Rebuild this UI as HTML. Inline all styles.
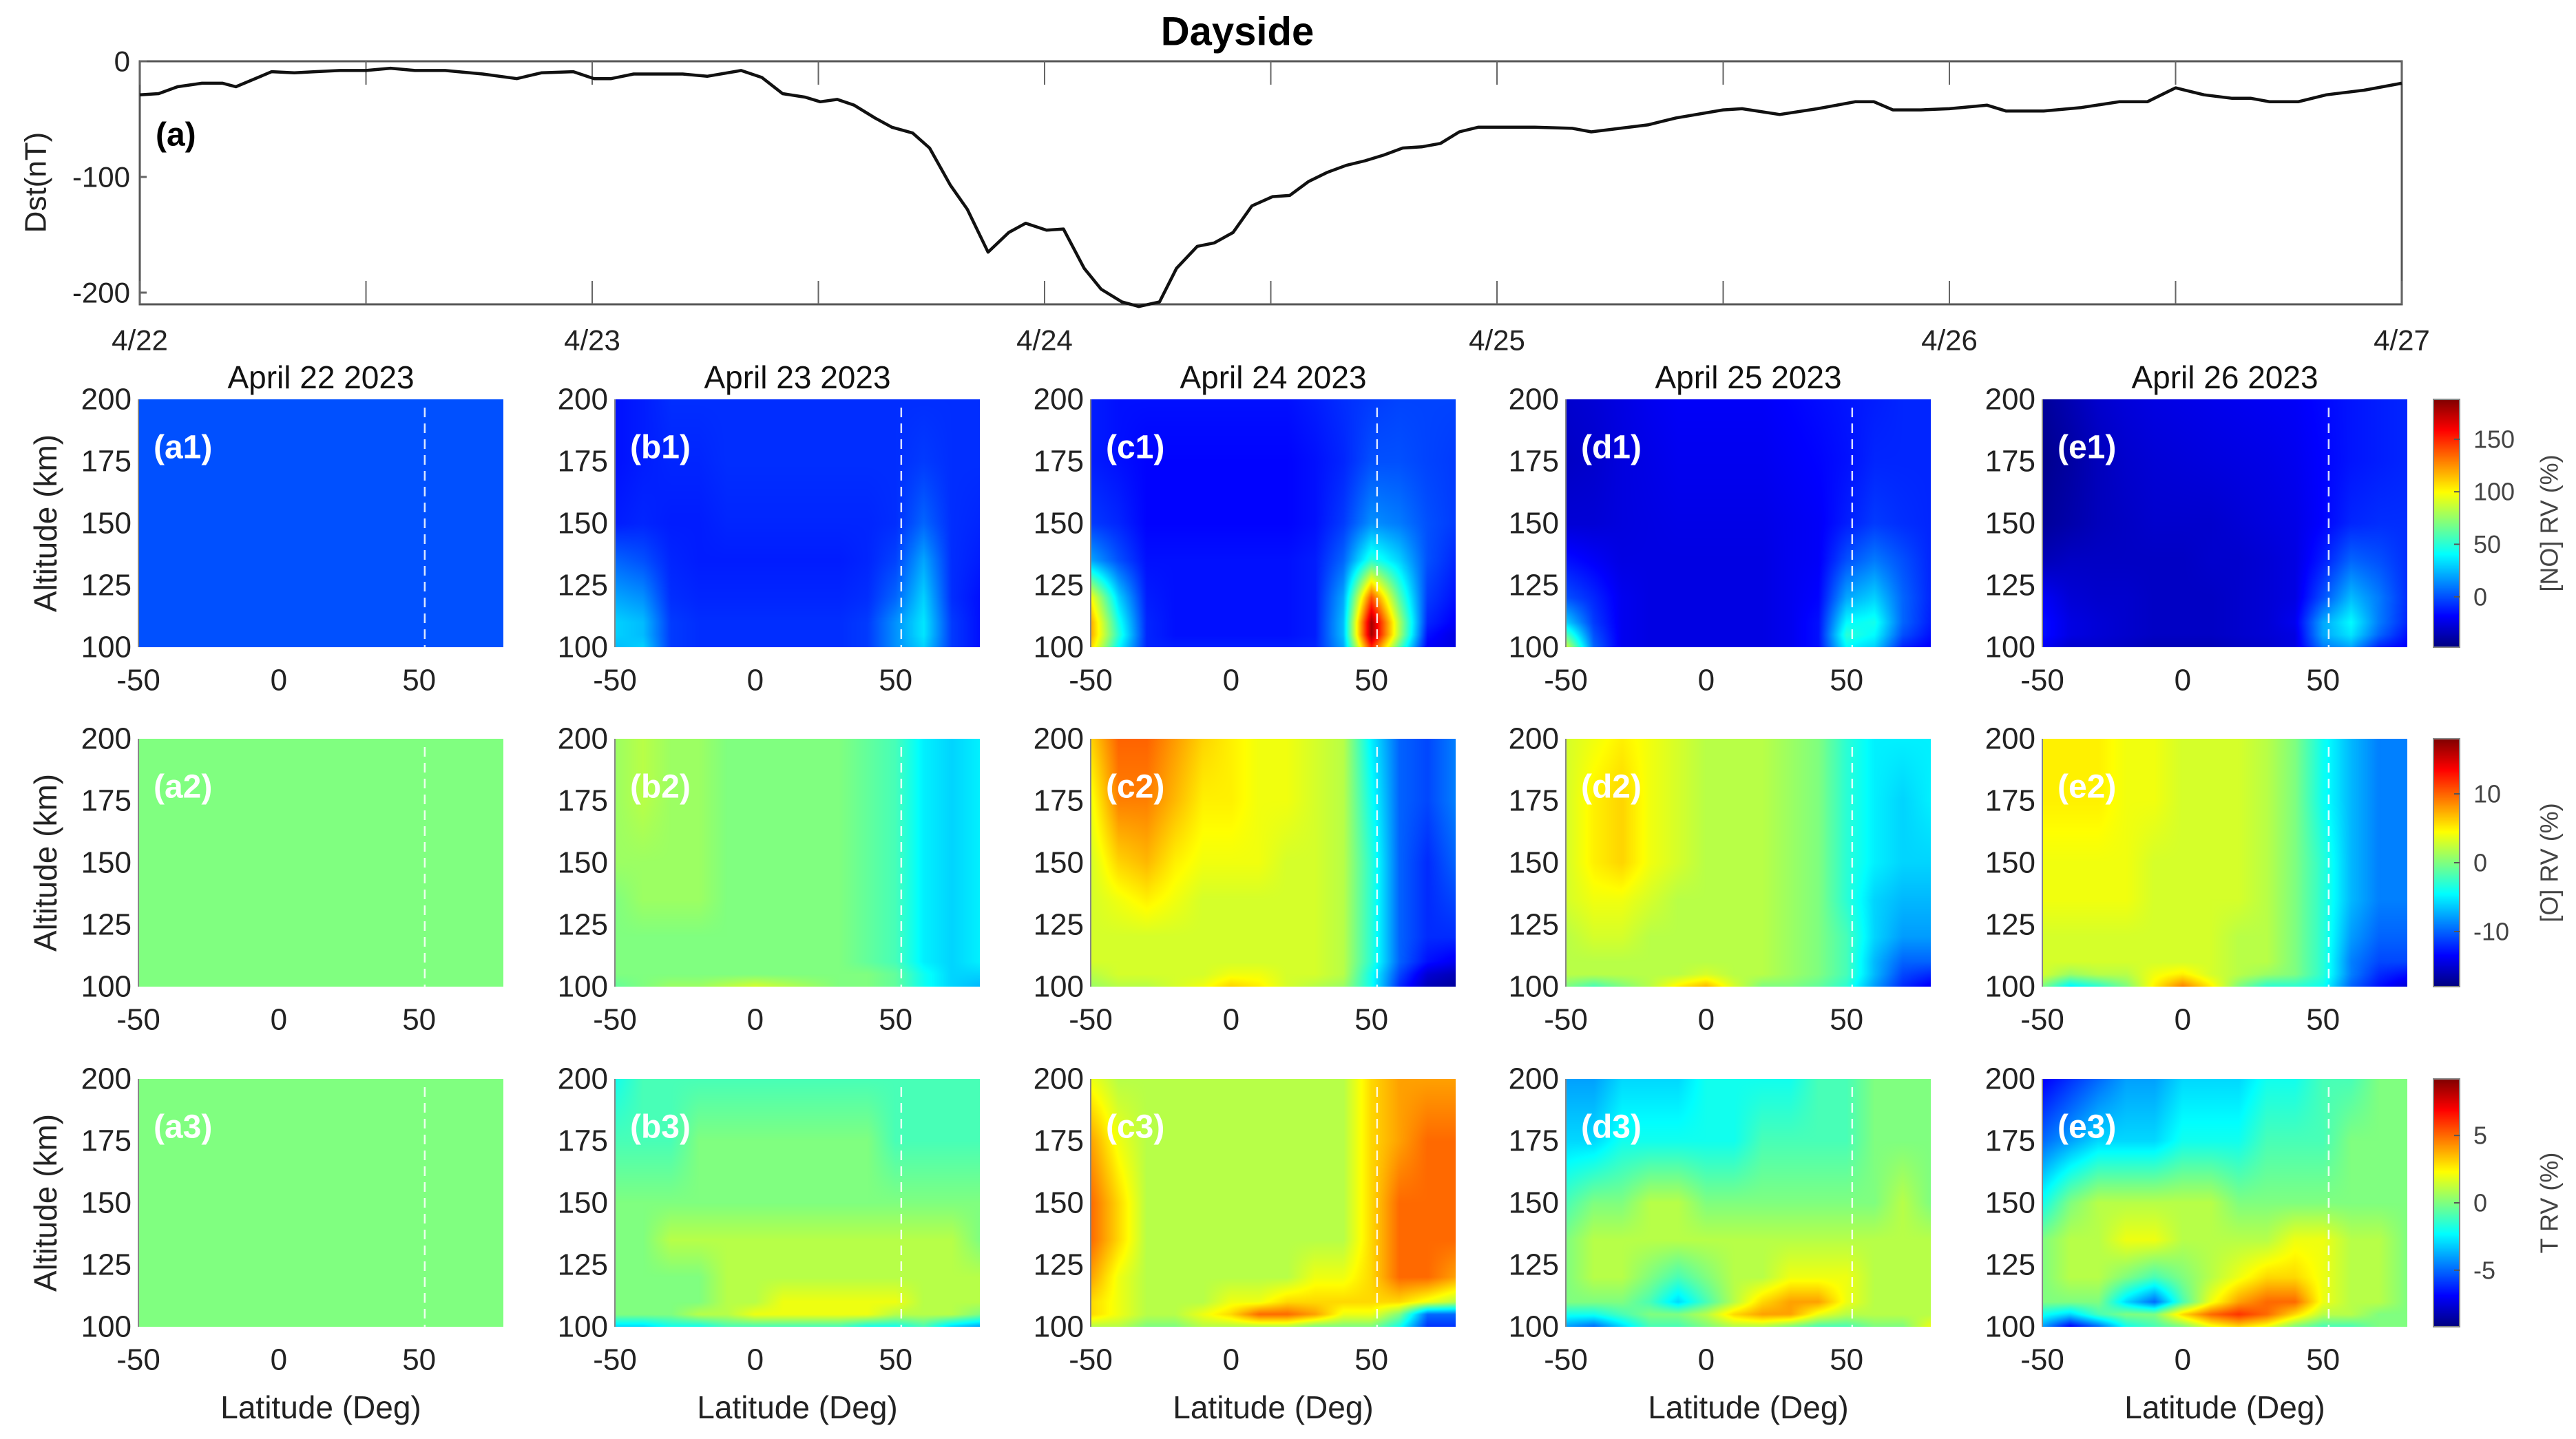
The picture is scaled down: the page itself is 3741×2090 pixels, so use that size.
<!DOCTYPE html>
<html><head><meta charset="utf-8">
<style>
html,body{margin:0;padding:0;background:#fff;}
#root{position:relative;width:3741px;height:2090px;overflow:hidden;font-family:"Liberation Sans",Arial,sans-serif;}
canvas{position:absolute;}
svg{position:absolute;left:0;top:0;}
</style></head>
<body>
<div id="root">
<svg id="svg" width="3741" height="2090"></svg>
</div>
<script>
// ---------- Dst data (hours since 4/22 00:00, nT) ----------
const dstHours = [0,1,2,3.3,4.4,5.1,7,8.2,9.3,10.6,12,13.3,14.6,16.2,18.2,20,21.3,23,24.1,25,26.2,28.8,30.1,31.9,33,34.1,35.3,36.1,37,37.9,39,39.9,41,41.9,43,43.9,45,46.1,47,48.1,49,50.1,51,52.1,53,54.1,55,56.1,57,58,59,60.1,61,62,63,64,65,66,67,68,69,70,71,72,74,76,77,78,80,81.5,84,85,87,89,91,92,93,94.5,96,98,99,101,103,105,106.5,108,109.5,111,112,113,114.5,116,118,120];
const dstValues = [-29,-28,-22,-19,-19,-22,-9,-10,-9,-8,-8,-6,-8,-8,-11,-15,-10,-9,-15,-15,-11,-11,-13,-8,-14,-28,-31,-35,-33,-38,-49,-57,-62,-75,-107,-128,-165,-148,-140,-146,-145,-179,-197,-208,-212,-208,-179,-160,-157,-148,-125,-117,-116,-104,-96,-90,-86,-81,-75,-74,-71,-61,-57,-57,-57,-58,-61,-59,-55,-49,-42,-41,-46,-41,-35,-35,-42,-42,-41,-38,-43,-43,-40,-35,-35,-23,-29,-32,-32,-35,-35,-29,-25,-19];
const dstTicks = [0,-100,-200];
const dayLabels = ["4/22","4/23","4/24","4/25","4/26","4/27"];

// ---------- Heatmap grids ----------
const lats = [-50,-40,-30,-20,-10,0,10,20,30,40,50,60,70,80];
const alts = [100,105,110,120,135,150,175,200];
const latTicks = [-50,0,50];
const altTicks = [100,125,150,175,200];
const dayTitles = ["April 22 2023","April 23 2023","April 24 2023","April 25 2023","April 26 2023"];
const colLetters = ["a","b","c","d","e"];

// [NO] RV (%)  rows ordered by alts (100 -> 200)
const noA = [
[0,0,0,0,0,0,0,0,0,0,0,0,0,0],[0,0,0,0,0,0,0,0,0,0,0,0,0,0],[0,0,0,0,0,0,0,0,0,0,0,0,0,0],[0,0,0,0,0,0,0,0,0,0,0,0,0,0],
[0,0,0,0,0,0,0,0,0,0,0,0,0,0],[0,0,0,0,0,0,0,0,0,0,0,0,0,0],[0,0,0,0,0,0,0,0,0,0,0,0,0,0],[0,0,0,0,0,0,0,0,0,0,0,0,0,0]];
const noB = [
[25,30,-5,-8,-8,-8,-8,-8,-8,-5,15,30,-5,-15],
[30,25,-5,-8,-8,-8,-8,-8,-8,-5,15,35,-5,-15],
[30,25,-5,-8,-8,-8,-8,-8,-8,-5,15,35,-5,-15],
[20,15,-8,-10,-10,-10,-10,-10,-10,-8,5,30,-8,-15],
[5,0,-10,-12,-12,-12,-12,-12,-12,-10,-3,20,-8,-12],
[-12,-10,-12,-12,-10,-10,-10,-10,-10,-10,-8,5,-8,-10],
[-15,-12,-10,-10,-8,-8,-8,-8,-8,-8,-8,-5,-8,-8],
[-15,-12,-8,-8,-8,-8,-8,-8,-8,-8,-8,-8,-8,-8]];
const noC = [
[110,40,-10,-12,-12,-12,-12,-12,-10,20,150,60,-20,-25],
[120,50,-10,-15,-15,-15,-15,-15,-12,25,180,80,-15,-25],
[120,45,-10,-15,-15,-15,-15,-15,-12,25,180,80,-10,-20],
[100,30,-12,-15,-15,-15,-15,-15,-12,20,140,60,-5,-15],
[20,0,-15,-15,-15,-15,-15,-15,-12,5,50,30,0,-10],
[-5,-10,-18,-18,-18,-18,-18,-18,-15,-5,15,10,0,-5],
[-12,-15,-18,-18,-18,-18,-18,-18,-15,-10,0,0,-3,-5],
[-12,-15,-15,-15,-15,-15,-15,-15,-12,-8,-5,-3,-3,-3]];
const noD = [
[90,5,-22,-25,-25,-25,-25,-25,-22,-15,40,30,-10,-20],
[60,0,-22,-25,-25,-25,-25,-25,-22,-15,50,40,0,-15],
[30,-5,-22,-25,-25,-25,-25,-25,-22,-15,40,45,5,-12],
[0,-10,-22,-25,-25,-25,-25,-25,-22,-18,20,30,5,-10],
[-15,-20,-25,-25,-25,-25,-25,-25,-22,-20,0,10,0,-10],
[-28,-28,-26,-25,-24,-24,-24,-24,-22,-20,-12,-5,-8,-10],
[-32,-30,-26,-24,-22,-22,-22,-22,-20,-18,-15,-10,-10,-10],
[-30,-28,-25,-22,-20,-20,-20,-20,-18,-16,-14,-12,-10,-10]];
const noE = [
[-20,-30,-30,-32,-35,-35,-35,-32,-30,-25,10,20,-10,-20],
[-15,-25,-28,-30,-32,-32,-32,-30,-28,-25,20,35,5,-15],
[-15,-25,-28,-30,-32,-32,-32,-30,-28,-22,20,40,10,-10],
[-20,-28,-30,-30,-32,-32,-32,-30,-28,-25,0,25,10,-8],
[-35,-32,-32,-32,-32,-32,-30,-30,-28,-25,-12,5,0,-8],
[-42,-38,-34,-32,-30,-30,-30,-28,-26,-24,-18,-10,-8,-8],
[-45,-40,-34,-30,-28,-27,-26,-25,-24,-22,-18,-14,-12,-10],
[-42,-36,-30,-27,-25,-24,-23,-22,-21,-20,-17,-14,-12,-10]];

// [O] RV (%)
const oA = [
[0,0,0,0,0,0,0,0,0,0,0,0,0,0],[0,0,0,0,0,0,0,0,0,0,0,0,0,0],[0,0,0,0,0,0,0,0,0,0,0,0,0,0],[0,0,0,0,0,0,0,0,0,0,0,0,0,0],
[0,0,0,0,0,0,0,0,0,0,0,0,0,0],[0,0,0,0,0,0,0,0,0,0,0,0,0,0],[0,0,0,0,0,0,0,0,0,0,0,0,0,0],[0,0,0,0,0,0,0,0,0,0,0,0,0,0]];
const oB = [
[-1,0,1,1,2,3,2,1,0,0,-1,-4,-6,-7],
[0,0,0,0,0,0,0,0,0,0,-1,-4,-6,-6],
[0,0,0,0,0,0,0,0,0,-1,-2,-5,-6,-5],
[0,0,0,0,0,0,0,0,0,-1,-2,-5,-6,-5],
[0,1,1,1,0,0,0,0,0,-1,-2,-5,-6,-5],
[1,1,1,1,0,0,0,0,0,-1,-2,-5,-6,-5],
[1,2,1,1,0,0,0,0,0,-1,-2,-5,-6,-5],
[1,2,1,1,0,0,0,0,0,-1,-2,-5,-6,-5]];
const oC = [
[1,2,2,3,4,6,5,3,2,1,-4,-12,-16,-17],
[2,3,3,3,3,4,4,3,3,2,-4,-11,-15,-16],
[3,3,3,3,3,3,3,3,3,2,-3,-10,-13,-14],
[3,3,3,3,3,3,3,3,3,2,-3,-10,-12,-12],
[3,4,5,4,3,3,3,3,3,2,-3,-10,-12,-11],
[3,6,7,5,4,4,4,3,3,2,-3,-10,-12,-10],
[4,9,9,7,5,5,4,4,3,2,-4,-10,-11,-9],
[6,10,10,8,6,5,4,4,3,2,-5,-10,-11,-9]];
const oD = [
[0,-2,0,2,5,7,3,0,0,-1,-3,-8,-12,-14],
[2,2,2,2,2,3,2,2,1,0,-2,-7,-11,-12],
[2,2,2,2,2,2,2,2,1,0,-2,-7,-10,-10],
[2,3,3,2,2,2,2,2,1,0,-2,-6,-8,-8],
[3,4,4,3,2,2,2,2,1,0,-3,-6,-7,-7],
[3,5,6,4,3,2,2,2,1,0,-3,-5,-6,-6],
[3,5,6,4,3,2,2,2,1,0,-3,-5,-6,-5],
[3,4,5,4,3,2,2,2,1,0,-3,-5,-5,-5]];
const oE = [
[0,-5,-3,0,5,9,5,0,-3,-3,-4,-10,-13,-15],
[3,1,2,2,4,5,3,2,1,0,-3,-9,-12,-13],
[3,3,3,3,3,3,3,2,2,0,-3,-9,-11,-11],
[3,3,3,3,3,3,3,2,2,0,-3,-8,-10,-10],
[4,4,4,4,3,3,3,3,2,0,-3,-7,-9,-9],
[4,4,4,4,3,3,3,3,2,0,-3,-7,-9,-9],
[5,5,5,4,4,3,3,3,2,0,-4,-7,-9,-9],
[5,5,5,4,4,3,3,3,2,0,-4,-7,-9,-9]];

// T RV (%)
const tA = [
[0,0,0,0,0,0,0,0,0,0,0,0,0,0],[0,0,0,0,0,0,0,0,0,0,0,0,0,0],[0,0,0,0,0,0,0,0,0,0,0,0,0,0],[0,0,0,0,0,0,0,0,0,0,0,0,0,0],
[0,0,0,0,0,0,0,0,0,0,0,0,0,0],[0,0,0,0,0,0,0,0,0,0,0,0,0,0],[0,0,0,0,0,0,0,0,0,0,0,0,0,0],[0,0,0,0,0,0,0,0,0,0,0,0,0,0]];
const tB = [
[-3,-3,-2,-2,-1,-1,-1,-1,-1,-2,-2,-1,-3,-4],
[0,0,0,1,1,2,2,2,2,2,1,1,1,0],
[0,0,0,0,1,1,2,2,2,2,2,1,1,1],
[0,0,0,0,1,1,1,1,1,1,1,1,1,1],
[0,0,1,1,1,1,1,1,1,1,1,1,1,0],
[0,0,0,0,0,0,0,0,0,0,0,0,0,0],
[-1,-1,-1,0,0,0,0,0,0,0,-1,-1,-1,-1],
[-2,-1,-1,-1,-1,-1,-1,-1,-1,-1,-1,-1,-1,-1]];
const tC = [
[1,1,0,0,1,1,1,1,0,0,0,-2,-6,-6],
[3,2,1,1,2,3,5,5,4,2,2,0,-5,-5],
[3,2,1,1,1,2,2,3,3,3,3,3,2,1],
[4,2,1,1,1,1,1,1,2,2,3,5,5,4],
[5,3,1,1,1,1,1,1,1,1,3,5,5,5],
[5,3,1,1,1,1,1,1,1,1,3,5,5,5],
[4,2,1,1,1,1,1,1,1,1,3,4,5,5],
[2,1,1,1,1,1,1,1,1,1,3,4,4,4]];
const tD = [
[-4,-5,-3,-1,-1,0,1,1,0,-1,-1,0,0,2],
[-2,-2,-1,0,0,1,3,4,4,2,1,1,1,1],
[0,0,0,-1,-3,-1,1,3,4,4,2,1,1,1],
[0,1,1,0,-1,0,1,1,2,2,2,1,1,1],
[0,1,1,1,1,1,1,1,1,1,1,1,1,1],
[-1,0,0,1,1,0,0,0,0,0,0,0,1,0],
[-3,-3,-2,-2,-2,-2,-2,-1,-1,-1,-1,0,0,0],
[-4,-4,-3,-3,-3,-2,-2,-2,-2,-1,-1,0,0,0]];
const tE = [
[-4,-7,-5,-2,-1,0,2,3,2,0,-1,-1,0,0],
[-2,-3,-1,0,0,3,5,6,5,3,1,1,0,0],
[0,0,0,-3,-5,-1,2,4,5,5,2,1,1,0],
[0,1,1,0,-1,0,1,2,3,3,2,1,1,0],
[0,1,1,2,2,1,1,1,1,2,2,1,1,0],
[-2,0,1,1,1,1,1,0,0,0,0,0,0,0],
[-5,-4,-3,-3,-3,-2,-2,-2,-1,-1,-1,0,0,0],
[-7,-6,-5,-4,-4,-3,-3,-3,-2,-2,-1,-1,0,0]];

const noRange = [-48,188], oRange = [-18,18], tRange = [-9.2,9.2];
const noTicks = [0,50,100,150], oTicks = [-10,0,10], tTicks = [-5,0,5];
const cbTitles = ["[NO] RV (%)","[O] RV (%)","T RV (%)"];

const grids = [[noA,noB,noC,noD,noE],[oA,oB,oC,oD,oE],[tA,tB,tC,tD,tE]];
const ranges = [noRange,oRange,tRange];
const cbTicks = [noTicks,oTicks,tTicks];
const boundaryLat = 52;

// ---------- layout ----------
const NS="http://www.w3.org/2000/svg";
const svg=document.getElementById('svg');
const root=document.getElementById('root');
function mk(tag,attrs,parent){const e=document.createElementNS(NS,tag);for(const k in attrs)e.setAttribute(k,attrs[k]);(parent||svg).appendChild(e);return e;}
function txt(s,x,y,size,attrs,parent){const t=mk('text',Object.assign({x:x,y:y,'font-size':size,'font-family':'"Liberation Sans", Arial, sans-serif',fill:'#222','dominant-baseline':'central'},attrs||{}),parent);t.textContent=s;return t;}

// top Dst panel
const TX0=203,TX1=3488,TY0=89,TY1=442;
const hx=h=>TX0+(h/120)*(TX1-TX0);
const vy=v=>TY0+(-v/200)*(425-TY0);
const title=txt("Dayside",1797,46,58,{'font-weight':'bold','text-anchor':'middle',fill:'#000'});


const dstG=mk('g',{});


const frame=mk('rect',{x:TX0,y:TY0,width:TX1-TX0,height:TY1-TY0,fill:'none',stroke:'#555','stroke-width':3},dstG);


for(let h=0;h<=120;h+=12){
  const x=hx(h);
  const t1=mk('line',{x1:x,x2:x,y1:TY0,y2:TY0+34,stroke:'#666','stroke-width':2},dstG);
  
  
  const t2=mk('line',{x1:x,x2:x,y1:TY1,y2:TY1-34,stroke:'#666','stroke-width':2},dstG);
  
  
}
dayLabels.forEach((s,i)=>{const t=txt(s,hx(i*24),494,42,{'text-anchor':'middle'},dstG);
  
  });
dstTicks.forEach(v=>{const y=vy(v);
  const tk=mk('line',{x1:TX0,x2:TX0+10,y1:y,y2:y,stroke:'#666','stroke-width':3},dstG);
  
  
  const t=txt(String(v),TX0-14,y,42,{'text-anchor':'end'},dstG);
  
  });
const dyl=txt("Dst(nT)",0,0,44,{'text-anchor':'middle',transform:'translate(52,265) rotate(-90)'},dstG);


const pa=txt("(a)",226,196,48,{'font-weight':'bold',fill:'#000'},dstG);


const line=mk('polyline',{points:dstHours.map((h,i)=>hx(h).toFixed(1)+','+vy(dstValues[i]).toFixed(1)).join(' '),fill:'none',stroke:'#111','stroke-width':4.5,'stroke-linejoin':'round'},dstG);



// heatmaps
const colX=[201,893,1584,2274,2966], PW=530;
const rowY=[580,1073,1567], PH=360;
const LAT0=-50,LAT1=80,ALT0=100,ALT1=200;
function jet(t){t=Math.max(0,Math.min(1,t));const c=v=>Math.round(255*Math.max(0,Math.min(1,v)));
  return [c(1.5-Math.abs(4*t-3)),c(1.5-Math.abs(4*t-2)),c(1.5-Math.abs(4*t-1))];}
function locate(arr,v){let i=0;while(i<arr.length-2&&v>arr[i+1])i++;let f=(v-arr[i])/(arr[i+1]-arr[i]);f=Math.max(0,Math.min(1,f));return [i,f];}
function sample(g,lat,alt){const [i,fi]=locate(lats,lat),[j,fj]=locate(alts,alt);
  const a=g[j][i],b=g[j][i+1],c=g[j+1][i],d=g[j+1][i+1];
  return (a*(1-fi)+b*fi)*(1-fj)+(c*(1-fi)+d*fi)*fj;}
const lx=(x0,lat)=>x0+(lat-LAT0)/(LAT1-LAT0)*PW;
const ay=(y0,alt)=>y0+PH-(alt-ALT0)/(ALT1-ALT0)*PH;

for(let r=0;r<3;r++){
  for(let c=0;c<5;c++){
    const x0=colX[c],y0=rowY[r],g=grids[r][c],rg=ranges[r];
    const cv=document.createElement('canvas');cv.width=PW;cv.height=PH;
    cv.style.left=x0+'px';cv.style.top=y0+'px';
    
    
    const ctx=cv.getContext('2d');const im=ctx.createImageData(PW,PH);
    for(let py=0;py<PH;py++){const alt=ALT1-(py+0.5)/PH*(ALT1-ALT0);
      for(let px=0;px<PW;px++){const lat=LAT0+(px+0.5)/PW*(LAT1-LAT0);
        const v=sample(g,lat,alt);const col=jet((v-rg[0])/(rg[1]-rg[0]));
        const k=(py*PW+px)*4;im.data[k]=col[0];im.data[k+1]=col[1];im.data[k+2]=col[2];im.data[k+3]=255;}}
    ctx.putImageData(im,0,0);root.insertBefore(cv,svg);
    const G=mk('g',{});
    
    
    const bx=lx(x0,boundaryLat);
    const dl=mk('line',{x1:bx,x2:bx,y1:y0+12,y2:y0+PH,stroke:'#fff','stroke-width':2.5,'stroke-dasharray':'14 9',opacity:0.85},G);
    
    
    const ax=mk('line',{x1:x0,x2:x0,y1:y0,y2:y0+PH,stroke:'#888','stroke-width':2},G);
    
    
    altTicks.forEach(a=>{const t=txt(String(a),x0-10,ay(y0,a),44,{'text-anchor':'end'},G);
      
      });
    latTicks.forEach(l=>{const t=txt(String(l),lx(x0,l),y0+PH+48,44,{'text-anchor':'middle'},G);
      
      });
    const pl=txt('('+colLetters[c]+(r+1)+')',x0+22,y0+70,48,{'font-weight':'bold',fill:'#fff'},G);
    
    
    if(r===0){const t=txt(dayTitles[c],x0+PW/2,548,46,{'text-anchor':'middle',fill:'#111'},G);
      
      }
    if(r===2){const t=txt("Latitude (Deg)",x0+PW/2,2044,46,{'text-anchor':'middle'},G);
      
      }
    if(c===0){const t=txt("Altitude (km)",0,0,46,{'text-anchor':'middle',transform:'translate(66,'+(y0+PH/2)+') rotate(-90)'},G);
      
      }
  }
  // colorbar
  const cx=3534,cw=38,y0=rowY[r],rg=ranges[r];
  const cb=document.createElement('canvas');cb.width=cw;cb.height=PH;cb.style.left=cx+'px';cb.style.top=y0+'px';
  
  
  const cctx=cb.getContext('2d');
  for(let py=0;py<PH;py++){const col=jet(1-(py+0.5)/PH);cctx.fillStyle='rgb('+col.join(',')+')';cctx.fillRect(0,py,cw,1);}
  root.insertBefore(cb,svg);
  const CG=mk('g',{});
  
  
  mk('rect',{x:cx,y:y0,width:cw,height:PH,fill:'none',stroke:'#888','stroke-width':2},CG);
  cbTicks[r].forEach(v=>{const y=y0+PH-(v-rg[0])/(rg[1]-rg[0])*PH;
    mk('line',{x1:cx+cw-8,x2:cx+cw,y1:y,y2:y,stroke:'#555','stroke-width':2},CG);
    const t=txt(String(v),cx+cw+20,y,36,{'text-anchor':'start',fill:'#444'},CG);
    
    });
  const ct=txt(cbTitles[r],0,0,36,{'text-anchor':'middle',fill:'#444',transform:'translate(3702,'+(y0+PH/2)+') rotate(-90)'},CG);
  
  
}
</script>
</body></html>
